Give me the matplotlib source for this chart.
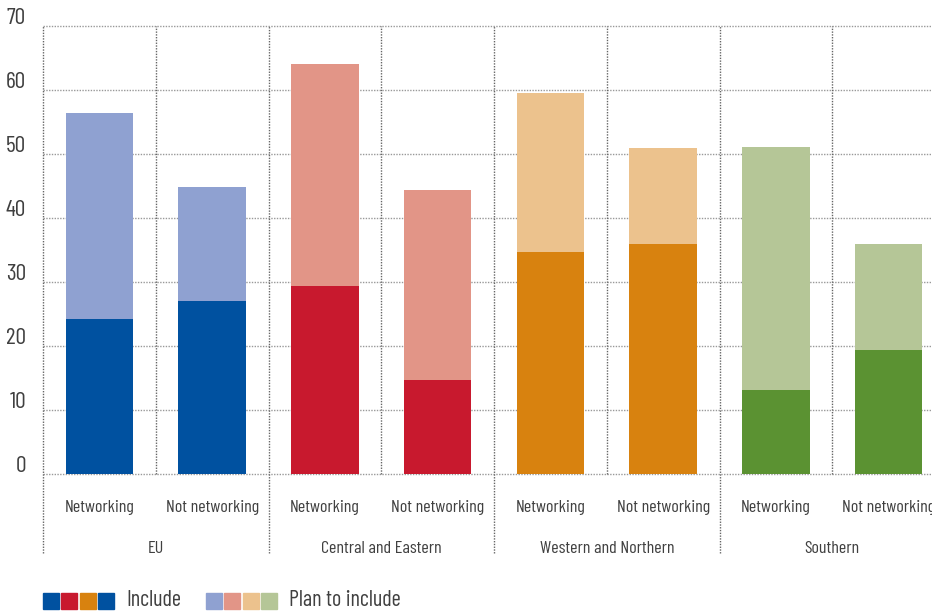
import numpy as np
import matplotlib
matplotlib.use("Agg")
import matplotlib.pyplot as plt
from matplotlib.patches import Rectangle

plt.rcParams['font.family'] = ['Barlow Condensed', 'DejaVu Sans']

groups = ['EU', 'Central and Eastern', 'Western and Northern', 'Southern']
subcats = ['Networking', 'Not networking']
include = [24.2, 27.0, 29.4, 14.7, 34.7, 35.9, 13.1, 19.4]
plan = [32.2, 17.8, 34.7, 29.7, 24.8, 15.0, 38.0, 16.5]

dark_colors = ['#0051A0', '#C8192E', '#D8820F', '#5B9232']
light_colors = ['#8FA1D1', '#E29587', '#ECC28D', '#B5C697']
legend_dark = ['#0051A0', '#C8192E', '#D8820F', '#0051A0']

txt = '#404040'
W, H = 932, 615
fig = plt.figure(figsize=(W / 100, H / 100), dpi=100)
ax = fig.add_axes([43 / W, (H - 474) / H, 902 / W, 448 / H])

n = len(include)
x = np.arange(n) + 0.5
cols_d = [dark_colors[i // 2] for i in range(n)]
cols_l = [light_colors[i // 2] for i in range(n)]
ax.bar(x, include, width=0.6, color=cols_d, zorder=3)
ax.bar(x, plan, width=0.6, bottom=include, color=cols_l, zorder=3)

ax.set_xlim(0, n)
ax.set_ylim(0, 70)
for s in ax.spines.values():
    s.set_visible(False)
ax.set_xticks([])
ax.set_yticks([])

# horizontal grid
for v in range(0, 80, 10):
    ax.plot([0, n], [v, v], color='#999999', lw=1, ls=(0, (1, 1)), zorder=1, clip_on=False)
    ax.text(-0.15, v + 0.25, str(v), ha='right', va='baseline', fontsize=17, color=txt)

# vertical separators
for i in range(n + 1):
    bottom = -12.3 if i % 2 == 0 else 0
    ax.plot([i, i], [bottom, 70], color='#666666', lw=1, ls=(0, (1, 1)), zorder=1, clip_on=False)

for i in range(n):
    ax.text(x[i], -5.2, subcats[i % 2], ha='center', va='center', fontsize=13, color=txt)
for g, name in enumerate(groups):
    ax.text(2 * g + 1, -11.6, name, ha='center', va='center', fontsize=13, color=txt)

# legend
sw_y = (H - 609) / H
sw_h = 16 / H
for k, xs in enumerate([43, 61, 80, 98]):
    fig.add_artist(Rectangle((xs / W, sw_y), 16 / W, sw_h, transform=fig.transFigure,
                             color=legend_dark[k]))
for k, xs in enumerate([206, 224, 243, 261]):
    fig.add_artist(Rectangle((xs / W, sw_y), 16 / W, sw_h, transform=fig.transFigure,
                             color=light_colors[k]))
fig.text(126 / W, (H - 601) / H, 'Include', ha='left', va='center', fontsize=16, color=txt)
fig.text(289 / W, (H - 601) / H, 'Plan to include', ha='left', va='center', fontsize=16, color=txt)

fig.savefig('out.png', dpi=100)
